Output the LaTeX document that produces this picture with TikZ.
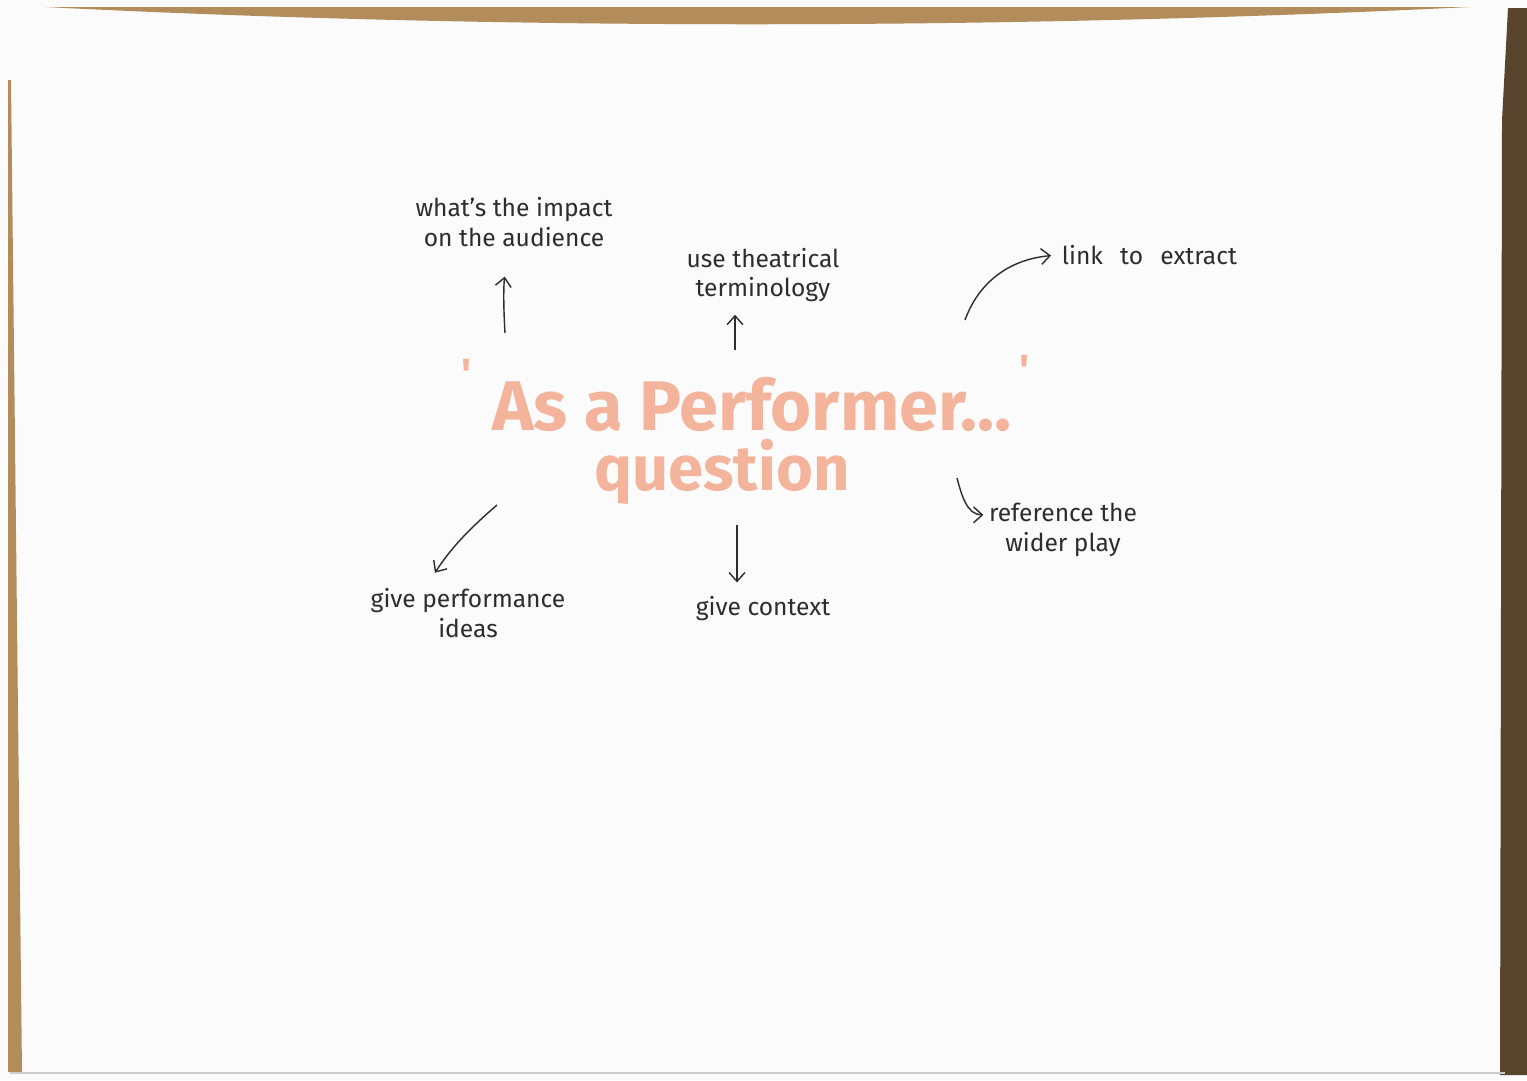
\documentclass[tikz,border=0pt]{standalone}
\usepackage{fontspec}
\setmainfont{Fira Sans}
\usepackage{xcolor}
\usetikzlibrary{arrows.meta,positioning}
\definecolor{wood}{RGB}{178,140,90}
\definecolor{darkwood}{RGB}{88,68,44}
\definecolor{paper}{RGB}{251,251,251}
\definecolor{ink}{RGB}{45,45,45}
\definecolor{peach}{RGB}{244,180,155}
\tikzset{
	note/.style={text=ink, align=center, inner sep=2pt, font=\fontsize{14}{17}\selectfont},
	title/.style={text=peach, inner sep=0pt, anchor=base, font=\fontsize{40}{44}\selectfont\bfseries},
	arr/.style={-{Straight Barb[length=5pt,width=9pt]}, draw=ink, line width=0.8pt}
}

\begin{document}
\begin{tikzpicture}[x=0.02cm,y=-0.02cm]
			\useasboundingbox (0,0) rectangle (1527,1080);

			% Paper and table edges
			\fill[paper] (0,0) rectangle (1527,1080);
			\fill[wood] (45,7) .. controls (500,30) and (1000,30) .. (1470,7) -- cycle;
			\fill[darkwood] (1527,8) -- (1508,8) -- (1502,120) -- (1500,1075) -- (1527,1075) -- cycle;
			\fill[wood] (8,80) -- (11,80) -- (22,1072) -- (8,1072) -- cycle;
			\draw[gray!40, line width=1.5pt] (10,1073) -- (1505,1073);

			% Main idea
			\node[title] (perf) at (752,430) {As a Performer\ldots};
			\node[title, font=\fontsize{36}{40}\selectfont\bfseries] (quest) at (722,490) {question};
			\node[title, font=\fontsize{24}{24}\selectfont\bfseries] (lq) at (467,388) {\textquotesingle};
			\node[title, font=\fontsize{24}{24}\selectfont\bfseries] (rq) at (1025,384) {\textquotesingle};

			% Branches
			\node[note] (impact) at (514,222) {what's the impact\\on the audience};
			\node[note] (term) at (763,275) {use theatrical\\terminology};
			\node[note, anchor=west] (link) at (1058,255) {link\hspace{0.7em}to\hspace{0.7em}extract};
			\node[note] (ideas) at (468,613) {give performance\\ideas};
			\node[note] (context) at (763,609) {give context};
			\node[note] (wider) at (1063,530) {reference the\\wider play};

			% Arrow tails
			\coordinate (t1) at (505,333);
			\coordinate (t2) at (735,350);
			\coordinate (t3) at (965,320);
			\coordinate (t4) at (497,505);
			\coordinate (t5) at (737,525);
			\coordinate (t6) at (957,478);

			% Arrows
			\draw[arr, shorten >=15pt] (t1) to[bend left=6] (impact);
			\draw[arr, shorten >=5pt] (t2) -- (t2 |- term.south);
			\draw[arr, shorten >=4pt] (t3) to[out=70, in=185] (link.west);
			\draw[arr, shorten >=8pt] (t4) to[bend right=8] (ideas.145);
			\draw[arr, shorten >=6pt] (t5) -- (t5 |- context.north);
			\draw[arr, shorten >=1pt] (t6) to[out=-75, in=180] (wider.169);
		\end{tikzpicture}
\end{document}
